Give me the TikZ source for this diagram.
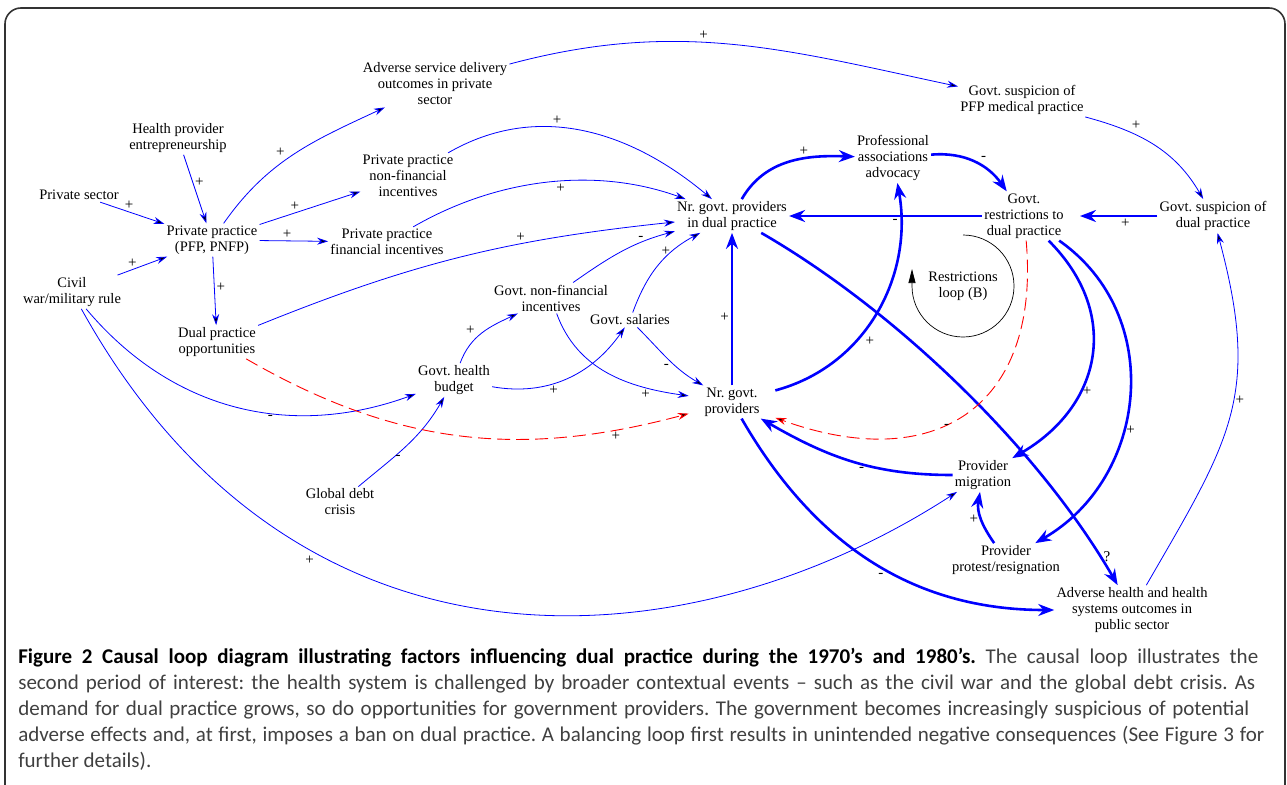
\documentclass[tikz,border=0pt]{standalone}
\usepackage{fontspec}
\setmainfont{Liberation Serif}
\newfontfamily\capfont{Carlito}
\usepackage{tikz}
\usetikzlibrary{arrows.meta}
\frenchspacing

\begin{document}
\begin{tikzpicture}[x=1pt,y=1pt,->,>={Stealth[length=11pt,width=7pt]},
		semithick]
		\tikzstyle{var}=[font=\fontsize{14.5}{16}\selectfont,align=center,inner sep=2pt,text=black]
		\tikzstyle{sgn}=[font=\fontsize{15}{15}\selectfont,inner sep=2pt,text=black]
		\tikzstyle{thinarr}=[draw=blue,line width=0.8pt]
		\tikzstyle{thickarr}=[draw=blue,line width=2.6pt,-{Stealth[length=16pt,width=12pt]}]
		\tikzstyle{delayarr}=[draw=red,line width=0.9pt,dash pattern=on 13pt off 6pt]
		
		\useasboundingbox (0,0) rectangle (1287,-784);
		\draw[-,black!80,line width=1.6pt,rounded corners=16pt] (5,-790) -- (5,-8) -- (1285,-8) -- (1285,-790);
		
		\node[var] (advsvc)    at (435,-84)  {Adverse service delivery\\outcomes in private\\sector};
		\node[var] (entre)     at (178,-138) {Health provider\\entrepreneurship};
		\node[var] (privsec)   at (79,-195)  {Private sector};
		\node[var] (pp)        at (212,-240) {Private practice\\(PFP, PNFP)};
		\node[var] (ppnonfin)  at (408,-176) {Private practice\\non-financial\\incentives};
		\node[var] (ppfin)     at (387,-242) {Private practice\\financial incentives};
		\node[var] (civil)     at (72,-292)  {Civil\\war/military rule};
		\node[var] (dualopp)   at (217,-342) {Dual practice\\opportunities};
		\node[var] (budget)    at (454,-380) {Govt. health\\budget};
		\node[var] (debt)      at (340,-502) {Global debt\\crisis};
		\node[var] (gnonfin)   at (551,-298) {Govt. non-financial\\incentives};
		\node[var] (salaries)  at (630,-320) {Govt. salaries};
		\node[var] (ndual)     at (732,-216) {Nr. govt. providers\\in dual practice};
		\node[var,minimum width=86pt] (ngov) at (732,-402) {Nr. govt.\\providers};
		\node[var] (profassoc) at (893,-158) {Professional\\associations\\advocacy};
		\node[var] (suspfp)    at (1022,-100) {Govt. suspicion of\\PFP medical practice};
		\node[var] (restr)     at (1024,-216) {Govt.\\restrictions to\\dual practice};
		\node[var] (suspdual)  at (1213,-216) {Govt. suspicion of\\dual practice};
		\node[var] (loop)      at (963,-286) {Restrictions\\loop (B)};
		\node[var] (migr)      at (983,-475) {Provider\\migration};
		\node[var] (protest)   at (1006,-560) {Provider\\protest/resignation};
		\node[var] (advhealth) at (1132,-610) {Adverse health and health\\systems outcomes in\\public sector};
		
		\path[thinarr]
		(privsec) edge node[sgn,pos=.45,above] {+} (pp)
		(entre) edge node[sgn,pos=.4,right] {+} (pp)
		(civil) edge node[sgn,pos=.3,above] {+} (pp)
		(pp) edge [out=55,in=205] node[sgn,pos=.45,above left] {+} (advsvc)
		(pp) edge node[sgn,pos=.35,above] {+} (ppnonfin)
		(pp) edge node[sgn,pos=.4,above] {+} (ppfin)
		(pp) edge node[sgn,pos=.45,right] {+} (dualopp)
		(advsvc) edge [out=15,in=168] node[sgn,pos=.43,above] {+} (suspfp)
		(ppnonfin) edge [out=30,in=140] node[sgn,pos=.4,above] {+} (ndual)
		(ppfin) edge [out=30,in=160,looseness=.9] node[sgn,pos=.55,below] {+} (ndual)
		(dualopp) edge [out=22,in=186] node[sgn,pos=.65,above] {+} (ndual)
		(gnonfin) edge [out=35,in=195] node[sgn,pos=.7,above] {-} (ndual)
		(salaries) edge [out=70,in=208] node[sgn,pos=.7,left] {+} (ndual)
		(budget) edge [out=70,in=205] node[sgn,pos=.4,above left] {+} (gnonfin)
		(budget) edge [out=-10,in=235] node[sgn,pos=.4,below] {+} (salaries)
		(gnonfin) edge [out=-70,in=172] node[sgn,pos=.75,below] {+} (ngov)
		(salaries) edge [out=-45,in=150] node[sgn,pos=.55,below left] {-} (ngov)
		(civil) edge [out=-50,in=200] node[sgn,pos=.6,below] {-} (budget)
		(debt) edge [out=40,in=240] node[sgn,pos=.35,right] {-} (budget)
		(civil) edge [out=-61,in=213,out looseness=1.28,in looseness=.9] node[sgn,pos=.3,below left] {+} (migr)
		(suspfp) edge [out=-15,in=120] node[sgn,pos=.3,above right] {+} (suspdual)
		(advhealth) edge [out=60,in=-75,looseness=1.2] node[sgn,pos=.55,right] {+} (suspdual);
		
		\path[thickarr]
		(ndual) edge [out=60,in=178] node[sgn,pos=.62,above] {+} (profassoc)
		(profassoc) edge [out=5,in=125] node[sgn,pos=.55,above right] {-} (restr)
		(restr) edge node[sgn,pos=.45,below] {-} (ndual)
		(suspdual) edge [shorten >=14pt] node[sgn,pos=.35,below] {+} (restr)
		(ngov) edge node[sgn,pos=.45,left] {+} (ndual)
		(ngov) edge [out=15,in=-80] node[sgn,pos=.4,below right] {+} (profassoc)
		(ndual) edge [out=-30,in=120,looseness=.8] node[sgn,pos=.93,right] {?} (advhealth)
		(restr) edge [out=-45,in=30,looseness=1.2] node[sgn,pos=.65,right] {+} (migr)
		(restr) edge [out=-35,in=30,looseness=1.1] node[sgn,pos=.6,right] {+} (protest)
		(migr) edge [out=180,in=-30] node[sgn,pos=.45,below] {-} (ngov)
		(protest) edge [out=125,in=-100] node[sgn,pos=.5,left] {+} (migr)
		(ngov) edge [out=-60,in=180] node[sgn,pos=.55,below left] {-} (advhealth);
		
		\path[delayarr]
		(dualopp) edge [out=-30,in=195] node[sgn,pos=.85,below] {+} (ngov)
		(restr) edge [out=-85,in=-20,looseness=1.4] node[sgn,pos=.55,below left] {-} (ngov);
		
		% balancing loop marker
		\draw[-{Triangle[length=14pt,width=7pt]},black,line width=.7pt] ([yshift=51pt]loop.center) arc[start angle=90,end angle=-180,radius=51pt] -- ++(0,17pt);
		
		\node[anchor=north west,inner sep=0pt,align=left,text=black!75,
			font=\capfont\fontsize{21}{26}\selectfont] (caption) at (18,-648)
		{\makebox[1240pt][s]{\textbf{\color{black}Figure 2 Causal loop diagram illustrating factors influencing dual practice during the 1970’s and 1980’s.} The causal loop illustrates the}\\
			\makebox[1237pt][s]{second period of interest: the health system is challenged by broader contextual events – such as the civil war and the global debt crisis. As}\\
			\makebox[1231pt][s]{demand for dual practice grows, so do opportunities for government providers. The government becomes increasingly suspicious of potential}\\
			\makebox[1246pt][s]{adverse effects and, at first, imposes a ban on dual practice. A balancing loop first results in unintended negative consequences (See Figure 3 for}\\
			further details).};
\end{tikzpicture}
\end{document}
